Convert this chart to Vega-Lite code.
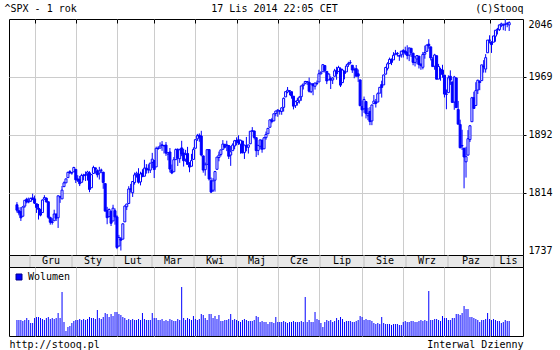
{
"$schema": "https://vega.github.io/schema/vega-lite/v6.json",
"background": "white",
"padding": {"left": 3, "top": 2, "right": 0, "bottom": 0},
"config": {
  "font": "DejaVu Sans Mono",
  "view": {"stroke": "black", "strokeWidth": 1},
  "axis": {"labelFont": "DejaVu Sans Mono", "labelFontSize": 10, "labelColor": "black", "titleFont": "DejaVu Sans Mono", "titleFontSize": 10, "titleFontWeight": "normal", "titleColor": "black", "gridColor": "#cccccc", "gridWidth": 1, "domain": false},
  "legend": {"labelFont": "DejaVu Sans Mono", "labelFontSize": 10, "labelColor": "black"}
},
"datasets": {
"months": [{"m":"Gru","s":9,"e":30},{"m":"Sty","s":30,"e":51},{"m":"Lut","s":51,"e":70},{"m":"Mar","s":70,"e":91},{"m":"Kwi","s":91,"e":112},{"m":"Maj","s":112,"e":133},{"m":"Cze","s":133,"e":154},{"m":"Lip","s":154,"e":176},{"m":"Sie","s":176,"e":197},{"m":"Wrz","s":197,"e":218},{"m":"Paz","s":218,"e":241},{"m":"Lis","s":241,"e":255.5}],
"px": [
{"i":0,"o":1798.8,"h":1802.3,"l":1788.4,"c":1791.5,"v":3200},
{"i":1,"o":1790.8,"h":1795.5,"l":1784.7,"c":1787.9,"v":3200},
{"i":2,"o":1789.6,"h":1795.7,"l":1777.2,"c":1781.4,"v":3200},
{"i":3,"o":1783.5,"h":1797.2,"l":1783.5,"c":1795.9,"v":3000},
{"i":4,"o":1797.0,"h":1804.8,"l":1794.7,"c":1804.8,"v":3200},
{"i":5,"o":1806.3,"h":1808.1,"l":1800.6,"c":1802.5,"v":3600},
{"i":6,"o":1802.9,"h":1808.4,"l":1800.8,"c":1802.8,"v":3200},
{"i":7,"o":1803.5,"h":1808.4,"l":1802.8,"c":1807.2,"v":2600},
{"i":8,"o":1808.0,"h":1813.6,"l":1805.8,"c":1805.8,"v":2600},
{"i":9,"o":1806.6,"h":1811.0,"l":1799.8,"c":1800.9,"v":3600},
{"i":10,"o":1800.1,"h":1800.1,"l":1787.9,"c":1795.2,"v":3800},
{"i":11,"o":1794.2,"h":1799.8,"l":1779.1,"c":1792.8,"v":3800},
{"i":12,"o":1792.8,"h":1792.8,"l":1783.4,"c":1785.0,"v":3600},
{"i":13,"o":1788.4,"h":1806.0,"l":1788.4,"c":1805.1,"v":3400},
{"i":14,"o":1806.2,"h":1811.5,"l":1806.2,"c":1808.4,"v":3200},
{"i":15,"o":1807.6,"h":1808.5,"l":1801.8,"c":1802.6,"v":3600},
{"i":16,"o":1802.8,"h":1803.0,"l":1780.1,"c":1782.2,"v":3800},
{"i":17,"o":1781.7,"h":1782.9,"l":1772.3,"c":1775.5,"v":3400},
{"i":18,"o":1776.0,"h":1780.9,"l":1772.4,"c":1775.3,"v":3600},
{"i":19,"o":1777.5,"h":1792.2,"l":1777.5,"c":1786.5,"v":3400},
{"i":20,"o":1786.5,"h":1786.8,"l":1777.2,"c":1781.0,"v":3600},
{"i":21,"o":1781.5,"h":1811.1,"l":1767.9,"c":1810.7,"v":4600},
{"i":22,"o":1809.0,"h":1810.9,"l":1801.3,"c":1809.6,"v":3600},
{"i":23,"o":1806.6,"h":1823.8,"l":1806.6,"c":1818.3,"v":8800},
{"i":24,"o":1822.9,"h":1829.8,"l":1822.9,"c":1828.0,"v":2800},
{"i":25,"o":1828.0,"h":1833.3,"l":1828.0,"c":1833.3,"v":1000},
{"i":26,"o":1834.9,"h":1842.8,"l":1834.9,"c":1842.0,"v":1800},
{"i":27,"o":1842.9,"h":1844.9,"l":1839.8,"c":1841.4,"v":2000},
{"i":28,"o":1841.5,"h":1842.5,"l":1838.8,"c":1841.1,"v":2600},
{"i":29,"o":1842.6,"h":1849.4,"l":1842.4,"c":1848.4,"v":3000},
{"i":30,"o":1845.9,"h":1845.9,"l":1827.7,"c":1832.0,"v":3200},
{"i":31,"o":1833.2,"h":1838.2,"l":1829.1,"c":1831.4,"v":3200},
{"i":32,"o":1832.3,"h":1837.2,"l":1823.7,"c":1826.8,"v":3400},
{"i":33,"o":1828.7,"h":1840.1,"l":1828.7,"c":1837.9,"v":3200},
{"i":34,"o":1837.9,"h":1840.0,"l":1831.4,"c":1837.5,"v":3400},
{"i":35,"o":1839.0,"h":1843.2,"l":1830.4,"c":1838.1,"v":3200},
{"i":36,"o":1840.1,"h":1844.0,"l":1831.0,"c":1842.4,"v":3400},
{"i":37,"o":1841.3,"h":1843.5,"l":1815.5,"c":1819.2,"v":3800},
{"i":38,"o":1821.4,"h":1839.3,"l":1821.4,"c":1838.9,"v":3600},
{"i":39,"o":1840.5,"h":1850.8,"l":1840.5,"c":1848.4,"v":3600},
{"i":40,"o":1848.0,"h":1848.0,"l":1840.3,"c":1845.9,"v":3400},
{"i":41,"o":1844.2,"h":1846.0,"l":1835.2,"c":1838.7,"v":5200},
{"i":42,"o":1841.1,"h":1849.3,"l":1832.4,"c":1843.8,"v":3600},
{"i":43,"o":1844.7,"h":1846.9,"l":1840.9,"c":1844.9,"v":3400},
{"i":44,"o":1842.3,"h":1842.3,"l":1820.1,"c":1828.5,"v":3800},
{"i":45,"o":1827.0,"h":1827.0,"l":1790.3,"c":1790.3,"v":4600},
{"i":46,"o":1791.0,"h":1796.0,"l":1772.9,"c":1781.6,"v":4400},
{"i":47,"o":1783.0,"h":1793.9,"l":1783.0,"c":1792.5,"v":3800},
{"i":48,"o":1790.2,"h":1790.2,"l":1770.5,"c":1774.2,"v":4400},
{"i":49,"o":1777.2,"h":1798.8,"l":1777.2,"c":1794.2,"v":4000},
{"i":50,"o":1790.9,"h":1793.9,"l":1772.3,"c":1782.6,"v":4800},
{"i":51,"o":1782.7,"h":1784.8,"l":1739.7,"c":1741.9,"v":4800},
{"i":52,"o":1743.8,"h":1758.7,"l":1743.8,"c":1755.2,"v":4400},
{"i":53,"o":1753.4,"h":1755.8,"l":1737.9,"c":1751.6,"v":4200},
{"i":54,"o":1753.0,"h":1774.1,"l":1753.0,"c":1773.4,"v":3800},
{"i":55,"o":1776.0,"h":1798.0,"l":1776.0,"c":1797.0,"v":3600},
{"i":56,"o":1796.2,"h":1799.9,"l":1791.8,"c":1799.8,"v":3200},
{"i":57,"o":1800.5,"h":1823.5,"l":1800.5,"c":1819.8,"v":3400},
{"i":58,"o":1820.1,"h":1826.6,"l":1815.1,"c":1819.3,"v":3200},
{"i":59,"o":1814.8,"h":1830.3,"l":1809.2,"c":1829.8,"v":3400},
{"i":60,"o":1828.5,"h":1841.7,"l":1825.6,"c":1838.6,"v":3200},
{"i":61,"o":1839.0,"h":1842.9,"l":1835.0,"c":1840.8,"v":3200},
{"i":62,"o":1838.9,"h":1847.5,"l":1827.0,"c":1828.8,"v":3400},
{"i":63,"o":1829.2,"h":1842.8,"l":1824.6,"c":1839.8,"v":3200},
{"i":64,"o":1841.1,"h":1846.1,"l":1835.6,"c":1836.3,"v":4600},
{"i":65,"o":1836.8,"h":1858.7,"l":1836.8,"c":1847.6,"v":3400},
{"i":66,"o":1847.7,"h":1852.9,"l":1840.2,"c":1845.1,"v":3200},
{"i":67,"o":1845.8,"h":1852.7,"l":1840.7,"c":1845.2,"v":3200},
{"i":68,"o":1844.9,"h":1854.5,"l":1841.1,"c":1854.3,"v":3200},
{"i":69,"o":1855.1,"h":1867.9,"l":1847.7,"c":1859.5,"v":4600},
{"i":70,"o":1857.7,"h":1857.7,"l":1834.4,"c":1845.7,"v":3600},
{"i":71,"o":1849.2,"h":1876.2,"l":1849.2,"c":1873.9,"v":3600},
{"i":72,"o":1874.1,"h":1876.5,"l":1871.9,"c":1873.8,"v":3200},
{"i":73,"o":1874.2,"h":1881.9,"l":1874.2,"c":1877.0,"v":3200},
{"i":74,"o":1878.5,"h":1883.6,"l":1870.6,"c":1878.0,"v":3400},
{"i":75,"o":1877.9,"h":1877.9,"l":1867.0,"c":1877.2,"v":3000},
{"i":76,"o":1878.3,"h":1882.4,"l":1863.9,"c":1867.6,"v":3200},
{"i":77,"o":1866.2,"h":1868.4,"l":1858.0,"c":1868.2,"v":3000},
{"i":78,"o":1869.1,"h":1874.4,"l":1841.9,"c":1846.3,"v":3400},
{"i":79,"o":1845.1,"h":1852.4,"l":1839.6,"c":1841.1,"v":3200},
{"i":80,"o":1842.8,"h":1862.3,"l":1842.8,"c":1858.8,"v":3000},
{"i":81,"o":1858.9,"h":1873.8,"l":1858.9,"c":1872.3,"v":3000},
{"i":82,"o":1872.3,"h":1874.1,"l":1850.4,"c":1860.8,"v":3400},
{"i":83,"o":1860.1,"h":1873.5,"l":1854.6,"c":1872.0,"v":3200},
{"i":84,"o":1874.5,"h":1884.0,"l":1863.5,"c":1866.5,"v":9800},
{"i":85,"o":1867.7,"h":1873.3,"l":1849.7,"c":1857.4,"v":3600},
{"i":86,"o":1859.5,"h":1871.9,"l":1856.0,"c":1865.6,"v":3200},
{"i":87,"o":1867.1,"h":1875.9,"l":1852.6,"c":1852.6,"v":3600},
{"i":88,"o":1852.1,"h":1855.6,"l":1842.1,"c":1849.0,"v":3400},
{"i":89,"o":1850.1,"h":1866.6,"l":1850.1,"c":1857.6,"v":3200},
{"i":90,"o":1859.2,"h":1875.2,"l":1859.2,"c":1872.3,"v":4000},
{"i":91,"o":1874.0,"h":1885.8,"l":1874.0,"c":1885.5,"v":3400},
{"i":92,"o":1886.6,"h":1893.2,"l":1883.8,"c":1890.9,"v":3200},
{"i":93,"o":1891.4,"h":1893.8,"l":1882.7,"c":1888.8,"v":3400},
{"i":94,"o":1890.3,"h":1897.3,"l":1863.3,"c":1865.1,"v":4400},
{"i":95,"o":1863.9,"h":1864.0,"l":1841.5,"c":1845.0,"v":4200},
{"i":96,"o":1845.5,"h":1855.0,"l":1837.5,"c":1852.0,"v":3600},
{"i":97,"o":1852.6,"h":1872.4,"l":1852.4,"c":1872.2,"v":3200},
{"i":98,"o":1872.3,"h":1872.5,"l":1830.9,"c":1833.1,"v":4400},
{"i":99,"o":1830.7,"h":1835.1,"l":1814.4,"c":1815.7,"v":4400},
{"i":100,"o":1818.2,"h":1834.2,"l":1815.8,"c":1830.6,"v":3600},
{"i":101,"o":1831.5,"h":1844.0,"l":1816.3,"c":1843.0,"v":4000},
{"i":102,"o":1846.0,"h":1862.3,"l":1846.0,"c":1862.3,"v":3400},
{"i":103,"o":1861.7,"h":1869.6,"l":1856.7,"c":1864.9,"v":4200},
{"i":104,"o":1865.8,"h":1871.9,"l":1863.2,"c":1871.9,"v":3000},
{"i":105,"o":1872.6,"h":1884.9,"l":1872.6,"c":1879.6,"v":3000},
{"i":106,"o":1879.3,"h":1879.8,"l":1873.9,"c":1875.4,"v":3200},
{"i":107,"o":1877.7,"h":1884.1,"l":1870.2,"c":1878.6,"v":3200},
{"i":108,"o":1877.7,"h":1877.7,"l":1859.7,"c":1863.4,"v":3400},
{"i":109,"o":1865.0,"h":1877.0,"l":1850.6,"c":1869.4,"v":4400},
{"i":110,"o":1870.8,"h":1880.6,"l":1870.8,"c":1878.3,"v":3200},
{"i":111,"o":1877.1,"h":1885.2,"l":1872.7,"c":1884.0,"v":3400},
{"i":112,"o":1884.4,"h":1888.6,"l":1878.0,"c":1883.7,"v":3200},
{"i":113,"o":1885.3,"h":1891.3,"l":1878.5,"c":1881.1,"v":3000},
{"i":114,"o":1879.5,"h":1885.5,"l":1866.8,"c":1884.7,"v":2800},
{"i":115,"o":1883.7,"h":1883.7,"l":1867.7,"c":1867.7,"v":3200},
{"i":116,"o":1868.5,"h":1878.8,"l":1859.8,"c":1878.2,"v":3400},
{"i":117,"o":1877.4,"h":1889.1,"l":1870.1,"c":1875.6,"v":3200},
{"i":118,"o":1875.3,"h":1878.8,"l":1867.0,"c":1878.5,"v":3000},
{"i":119,"o":1880.0,"h":1897.1,"l":1880.0,"c":1896.7,"v":3000},
{"i":120,"o":1896.8,"h":1902.2,"l":1896.1,"c":1897.5,"v":3000},
{"i":121,"o":1897.1,"h":1897.1,"l":1885.8,"c":1888.5,"v":3200},
{"i":122,"o":1888.2,"h":1888.2,"l":1862.4,"c":1870.9,"v":4000},
{"i":123,"o":1871.2,"h":1878.3,"l":1864.8,"c":1877.9,"v":3800},
{"i":124,"o":1876.7,"h":1886.0,"l":1872.4,"c":1885.1,"v":2800},
{"i":125,"o":1884.9,"h":1884.9,"l":1868.1,"c":1872.8,"v":3000},
{"i":126,"o":1873.3,"h":1888.8,"l":1873.3,"c":1888.0,"v":2800},
{"i":127,"o":1888.2,"h":1896.3,"l":1885.4,"c":1892.5,"v":2800},
{"i":128,"o":1893.3,"h":1901.3,"l":1893.3,"c":1900.5,"v":2400},
{"i":129,"o":1902.0,"h":1912.3,"l":1902.0,"c":1911.9,"v":2800},
{"i":130,"o":1911.8,"h":1914.5,"l":1907.3,"c":1909.8,"v":2800},
{"i":131,"o":1910.6,"h":1920.0,"l":1909.8,"c":1920.0,"v":2600},
{"i":132,"o":1920.3,"h":1924.0,"l":1916.6,"c":1923.6,"v":3800},
{"i":133,"o":1923.9,"h":1925.9,"l":1916.0,"c":1925.0,"v":2800},
{"i":134,"o":1923.1,"h":1925.1,"l":1918.8,"c":1924.2,"v":2800},
{"i":135,"o":1923.1,"h":1928.6,"l":1918.6,"c":1927.9,"v":2800},
{"i":136,"o":1928.5,"h":1941.7,"l":1922.9,"c":1940.5,"v":3000},
{"i":137,"o":1942.4,"h":1949.4,"l":1942.4,"c":1949.4,"v":2800},
{"i":138,"o":1949.0,"h":1955.6,"l":1947.2,"c":1951.3,"v":2600},
{"i":139,"o":1950.3,"h":1950.9,"l":1944.6,"c":1950.8,"v":2800},
{"i":140,"o":1949.4,"h":1949.4,"l":1940.1,"c":1943.9,"v":2800},
{"i":141,"o":1943.4,"h":1943.4,"l":1925.8,"c":1930.1,"v":3000},
{"i":142,"o":1930.8,"h":1937.3,"l":1927.7,"c":1936.2,"v":2800},
{"i":143,"o":1934.8,"h":1941.2,"l":1930.9,"c":1937.8,"v":2800},
{"i":144,"o":1937.2,"h":1943.7,"l":1933.6,"c":1942.0,"v":2800},
{"i":145,"o":1942.7,"h":1957.7,"l":1937.3,"c":1957.0,"v":3000},
{"i":146,"o":1957.5,"h":1959.9,"l":1952.3,"c":1959.5,"v":2800},
{"i":147,"o":1960.5,"h":1963.9,"l":1959.2,"c":1962.9,"v":7800},
{"i":148,"o":1962.9,"h":1963.7,"l":1958.4,"c":1962.6,"v":2800},
{"i":149,"o":1962.0,"h":1968.2,"l":1948.3,"c":1950.0,"v":3200},
{"i":150,"o":1949.3,"h":1960.8,"l":1947.5,"c":1959.5,"v":2800},
{"i":151,"o":1959.9,"h":1959.9,"l":1944.7,"c":1957.2,"v":2800},
{"i":152,"o":1956.6,"h":1961.0,"l":1952.2,"c":1961.0,"v":4800},
{"i":153,"o":1960.8,"h":1964.2,"l":1958.2,"c":1960.2,"v":3400},
{"i":154,"o":1962.3,"h":1978.6,"l":1962.3,"c":1973.3,"v":3200},
{"i":155,"o":1973.1,"h":1976.7,"l":1972.6,"c":1974.6,"v":2600},
{"i":156,"o":1975.9,"h":1985.6,"l":1975.9,"c":1985.4,"v":1800},
{"i":157,"o":1984.2,"h":1984.2,"l":1974.9,"c":1977.7,"v":2800},
{"i":158,"o":1976.4,"h":1976.4,"l":1959.5,"c":1963.7,"v":3200},
{"i":159,"o":1965.1,"h":1974.2,"l":1965.1,"c":1972.8,"v":3000},
{"i":160,"o":1966.7,"h":1969.8,"l":1952.9,"c":1964.7,"v":3200},
{"i":161,"o":1965.0,"h":1968.7,"l":1959.6,"c":1967.6,"v":2800},
{"i":162,"o":1969.9,"h":1979.8,"l":1969.9,"c":1977.1,"v":3000},
{"i":163,"o":1977.4,"h":1982.5,"l":1965.3,"c":1973.3,"v":3600},
{"i":164,"o":1976.4,"h":1983.9,"l":1975.7,"c":1981.6,"v":3200},
{"i":165,"o":1979.8,"h":1981.8,"l":1955.6,"c":1958.1,"v":3800},
{"i":166,"o":1961.5,"h":1979.9,"l":1960.8,"c":1978.2,"v":3400},
{"i":167,"o":1976.9,"h":1976.9,"l":1965.8,"c":1973.6,"v":2800},
{"i":168,"o":1975.7,"h":1986.2,"l":1975.7,"c":1983.5,"v":3000},
{"i":169,"o":1985.3,"h":1989.2,"l":1982.4,"c":1987.0,"v":3000},
{"i":170,"o":1988.1,"h":1991.4,"l":1985.8,"c":1988.0,"v":3000},
{"i":171,"o":1984.6,"h":1984.6,"l":1974.4,"c":1978.3,"v":2800},
{"i":172,"o":1978.3,"h":1981.5,"l":1967.3,"c":1978.9,"v":2800},
{"i":173,"o":1980.0,"h":1984.9,"l":1969.9,"c":1970.0,"v":3000},
{"i":174,"o":1973.2,"h":1978.9,"l":1962.4,"c":1970.1,"v":3200},
{"i":175,"o":1965.1,"h":1965.1,"l":1930.0,"c":1930.7,"v":4000},
{"i":176,"o":1929.8,"h":1937.4,"l":1916.4,"c":1925.2,"v":3800},
{"i":177,"o":1926.6,"h":1942.9,"l":1921.2,"c":1939.0,"v":3200},
{"i":178,"o":1936.3,"h":1936.3,"l":1913.8,"c":1920.2,"v":3400},
{"i":179,"o":1917.3,"h":1927.9,"l":1911.5,"c":1920.2,"v":3200},
{"i":180,"o":1923.0,"h":1928.9,"l":1904.8,"c":1909.6,"v":3200},
{"i":181,"o":1910.4,"h":1932.4,"l":1904.8,"c":1931.6,"v":3000},
{"i":182,"o":1933.4,"h":1944.9,"l":1933.4,"c":1936.9,"v":2600},
{"i":183,"o":1935.7,"h":1939.7,"l":1928.3,"c":1933.8,"v":2400},
{"i":184,"o":1935.6,"h":1948.4,"l":1935.6,"c":1946.7,"v":2600},
{"i":185,"o":1947.4,"h":1955.2,"l":1947.4,"c":1955.2,"v":2400},
{"i":186,"o":1958.9,"h":1964.0,"l":1941.5,"c":1955.1,"v":3800},
{"i":187,"o":1958.4,"h":1972.0,"l":1958.4,"c":1971.7,"v":2600},
{"i":188,"o":1972.7,"h":1982.6,"l":1972.7,"c":1981.6,"v":2400},
{"i":189,"o":1980.5,"h":1988.6,"l":1977.7,"c":1986.5,"v":2400},
{"i":190,"o":1986.8,"h":1994.8,"l":1986.8,"c":1992.4,"v":2400},
{"i":191,"o":1992.6,"h":1993.5,"l":1984.8,"c":1988.4,"v":2200},
{"i":192,"o":1991.7,"h":2002.0,"l":1991.7,"c":1997.9,"v":2400},
{"i":193,"o":1998.6,"h":2005.0,"l":1998.6,"c":2000.0,"v":2400},
{"i":194,"o":2000.5,"h":2002.1,"l":1996.2,"c":2000.1,"v":2400},
{"i":195,"o":1997.4,"h":1998.6,"l":1990.5,"c":1996.7,"v":2200},
{"i":196,"o":1998.5,"h":2003.4,"l":1994.7,"c":2003.4,"v":2200},
{"i":197,"o":2004.1,"h":2006.1,"l":1994.9,"c":2002.3,"v":2800},
{"i":198,"o":2003.6,"h":2009.3,"l":1998.2,"c":2000.7,"v":3000},
{"i":199,"o":2001.7,"h":2011.2,"l":1992.5,"c":1997.7,"v":2800},
{"i":200,"o":1998.0,"h":2007.7,"l":1990.1,"c":2007.7,"v":2800},
{"i":201,"o":2007.2,"h":2007.2,"l":1995.6,"c":2001.5,"v":3000},
{"i":202,"o":2000.7,"h":2001.0,"l":1984.6,"c":1988.4,"v":3000},
{"i":203,"o":1988.4,"h":1996.7,"l":1983.0,"c":1995.7,"v":2800},
{"i":204,"o":1992.9,"h":1997.7,"l":1985.9,"c":1997.5,"v":2800},
{"i":205,"o":1996.7,"h":1996.7,"l":1980.3,"c":1985.5,"v":3000},
{"i":206,"o":1986.0,"h":1987.2,"l":1978.5,"c":1984.1,"v":3200},
{"i":207,"o":1981.9,"h":2002.3,"l":1979.1,"c":1999.0,"v":3000},
{"i":208,"o":1999.3,"h":2010.7,"l":1993.3,"c":2001.6,"v":3200},
{"i":209,"o":2003.1,"h":2012.3,"l":2003.1,"c":2011.4,"v":3000},
{"i":210,"o":2012.7,"h":2019.3,"l":2006.6,"c":2010.4,"v":9000},
{"i":211,"o":2009.1,"h":2009.1,"l":1991.0,"c":1994.3,"v":3200},
{"i":212,"o":1992.8,"h":1995.4,"l":1982.4,"c":1982.8,"v":3200},
{"i":213,"o":1983.3,"h":1999.8,"l":1978.6,"c":1998.3,"v":3400},
{"i":214,"o":1997.3,"h":1997.3,"l":1966.0,"c":1966.0,"v":3400},
{"i":215,"o":1966.2,"h":1986.4,"l":1966.2,"c":1982.9,"v":3200},
{"i":216,"o":1979.0,"h":1981.3,"l":1964.0,"c":1977.8,"v":3000},
{"i":217,"o":1978.2,"h":1985.2,"l":1968.0,"c":1972.3,"v":4000},
{"i":218,"o":1971.4,"h":1971.4,"l":1941.7,"c":1946.2,"v":3600},
{"i":219,"o":1945.8,"h":1952.3,"l":1926.0,"c":1946.2,"v":3600},
{"i":220,"o":1948.1,"h":1971.2,"l":1948.1,"c":1967.9,"v":3200},
{"i":221,"o":1970.0,"h":1977.8,"l":1958.4,"c":1964.8,"v":3200},
{"i":222,"o":1962.4,"h":1962.4,"l":1935.1,"c":1935.1,"v":3600},
{"i":223,"o":1935.6,"h":1970.4,"l":1925.3,"c":1968.9,"v":3600},
{"i":224,"o":1967.7,"h":1967.7,"l":1927.6,"c":1928.2,"v":4400},
{"i":225,"o":1925.6,"h":1937.0,"l":1906.1,"c":1906.1,"v":4400},
{"i":226,"o":1905.7,"h":1912.1,"l":1874.1,"c":1874.7,"v":4200},
{"i":227,"o":1877.1,"h":1898.7,"l":1871.8,"c":1877.7,"v":4600},
{"i":228,"o":1874.2,"h":1874.2,"l":1820.7,"c":1862.5,"v":6000},
{"i":229,"o":1856.0,"h":1876.0,"l":1835.0,"c":1862.8,"v":5400},
{"i":230,"o":1864.9,"h":1898.2,"l":1864.9,"c":1886.8,"v":5400},
{"i":231,"o":1885.6,"h":1905.0,"l":1882.3,"c":1904.0,"v":3800},
{"i":232,"o":1909.4,"h":1942.5,"l":1909.4,"c":1941.3,"v":3800},
{"i":233,"o":1941.3,"h":1949.3,"l":1926.8,"c":1927.1,"v":3600},
{"i":234,"o":1931.0,"h":1962.0,"l":1931.0,"c":1950.8,"v":3400},
{"i":235,"o":1951.6,"h":1965.3,"l":1946.3,"c":1964.6,"v":3200},
{"i":236,"o":1963.0,"h":1964.6,"l":1951.4,"c":1961.6,"v":2800},
{"i":237,"o":1964.1,"h":1985.1,"l":1964.1,"c":1985.1,"v":3200},
{"i":238,"o":1983.3,"h":1991.4,"l":1974.8,"c":1982.3,"v":3200},
{"i":239,"o":1979.5,"h":1999.4,"l":1974.8,"c":1994.7,"v":3400},
{"i":240,"o":2001.2,"h":2018.2,"l":2001.2,"c":2018.1,"v":4600},
{"i":241,"o":2018.2,"h":2024.5,"l":2013.7,"c":2017.8,"v":3400},
{"i":242,"o":2015.8,"h":2016.0,"l":2001.0,"c":2012.1,"v":3200},
{"i":243,"o":2015.3,"h":2023.8,"l":2015.3,"c":2023.6,"v":3400},
{"i":244,"o":2023.3,"h":2031.6,"l":2015.9,"c":2031.2,"v":3200},
{"i":245,"o":2032.4,"h":2034.3,"l":2025.6,"c":2031.9,"v":3000},
{"i":246,"o":2032.0,"h":2038.7,"l":2030.2,"c":2038.3,"v":3000},
{"i":247,"o":2038.2,"h":2041.3,"l":2035.3,"c":2039.7,"v":2600},
{"i":248,"o":2037.8,"h":2040.3,"l":2031.3,"c":2038.3,"v":2800},
{"i":249,"o":2039.2,"h":2046.18,"l":2030.4,"c":2039.3,"v":3200},
{"i":250,"o":2039.7,"h":2042.2,"l":2035.2,"c":2039.8,"v":3000},
{"i":251,"o":2038.3,"h":2043.1,"l":2030.2,"c":2041.3,"v":3000}
]
},
"spacing": 0,
"bounds": "flush",
"resolve": {"legend": {"color": "independent"}},
"vconcat": [
{
  "width": 514, "height": 236,
  "data": {"name": "px"},
  "resolve": {"axis": {"x": "independent"}},
  "layer": [
    {"mark": {"type": "rule", "color": "#0000ff", "strokeWidth": 1},
     "encoding": {
       "x": {"field": "i", "type": "quantitative", "scale": {"domain": [-1.5, 255.5], "nice": false, "zero": false},
         "axis": {"orient": "top", "values": [9,30,51,70,91,112,133,154,176,197,218,241], "grid": true, "labels": false, "ticks": false, "title": "^SPX - 1 rok", "titleAnchor": "start", "titleAlign": "left", "titleBaseline": "alphabetic", "titleX": -5, "titleY": -8}},
       "y": {"field": "l", "type": "quantitative", "scale": {"domain": [1731.9, 2046.18], "nice": false, "zero": false},
         "axis": {"orient": "right", "values": [1737.92, 1814.985, 1892.05, 1969.115, 2046.18], "labelExpr": "format(floor(datum.value), 'd')", "labelFlush": 2, "grid": true,
           "gridColor": {"condition": {"test": "datum.value < 1740 || datum.value > 2040", "value": "transparent"}, "value": "#cccccc"},
           "tickColor": {"condition": {"test": "datum.value < 1740 || datum.value > 2040", "value": "transparent"}, "value": "black"},
           "tickSize": 3, "labelPadding": 2, "title": "(C)Stooq", "titleAngle": 0, "titleAlign": "right", "titleBaseline": "alphabetic", "titleX": 0, "titleY": -8}},
       "y2": {"field": "h"}}},
    {"mark": {"type": "bar", "size": 2, "stroke": "#0000ff", "strokeWidth": 1},
     "encoding": {
       "x": {"field": "i", "type": "quantitative", "scale": {"domain": [-1.5, 255.5], "nice": false, "zero": false},
         "axis": {"orient": "top", "values": [9,30,51,70,91,112,133,154,176,197,218,241], "grid": false, "labels": false, "ticks": true, "tickColor": "black", "tickSize": -4, "title": "17 Lis 2014 22:05 CET", "titleAnchor": "start", "titleAlign": "center", "titleBaseline": "alphabetic", "titleX": 265, "titleY": -8}},
       "y": {"field": "o", "type": "quantitative"},
       "y2": {"field": "c"},
       "fill": {"condition": {"test": "datum.c < datum.o", "value": "#0000ff"}, "value": "white"}}}
  ]
},
{
  "width": 514, "height": 12,
  "view": {"fill": "#e8e8e8", "stroke": "black"},
  "data": {"name": "months"},
  "layer": [
    {"mark": {"type": "rule", "color": "#c0c0c0"},
     "encoding": {"x": {"field": "s", "type": "quantitative", "scale": {"domain": [-1.5, 255.5], "nice": false, "zero": false}, "axis": null}}},
    {"transform": [{"calculate": "(datum.s + datum.e) / 2", "as": "mid"}],
     "mark": {"type": "text", "fontSize": 10, "font": "DejaVu Sans Mono", "color": "black", "baseline": "middle"},
     "encoding": {"x": {"field": "mid", "type": "quantitative"}, "text": {"field": "m"}}}
  ]
},
{
  "width": 514, "height": 69,
  "data": {"name": "px"},
  "mark": {"type": "bar", "size": 1},
  "encoding": {
    "x": {"field": "i", "type": "quantitative", "scale": {"domain": [-1.5, 255.5], "nice": false, "zero": false},
      "axis": {"orient": "bottom", "values": [9,30,51,70,91,112,133,154,176,197,218,241], "grid": true, "labels": false, "ticks": false, "title": "http://stooq.pl", "titleAnchor": "start", "titleAlign": "left", "titleBaseline": "alphabetic", "titleX": 0, "titleY": 11}},
    "y": {"field": "v", "type": "quantitative", "scale": {"domain": [0, 13800], "nice": false},
      "axis": {"orient": "right", "grid": false, "labels": false, "ticks": false, "title": "Interwal Dzienny", "titleAngle": 0, "titleAlign": "right", "titleBaseline": "alphabetic", "titleX": 0, "titleY": 80}},
    "color": {"datum": "Wolumen", "type": "nominal", "scale": {"range": ["#0000ff"]},
      "legend": {"orient": "top-left", "title": null, "offset": 5, "padding": 0, "symbolType": "square", "symbolSize": 36, "symbolStrokeColor": "#00008b", "symbolStrokeWidth": 1, "labelOffset": 4}}
  }
}
]
}
